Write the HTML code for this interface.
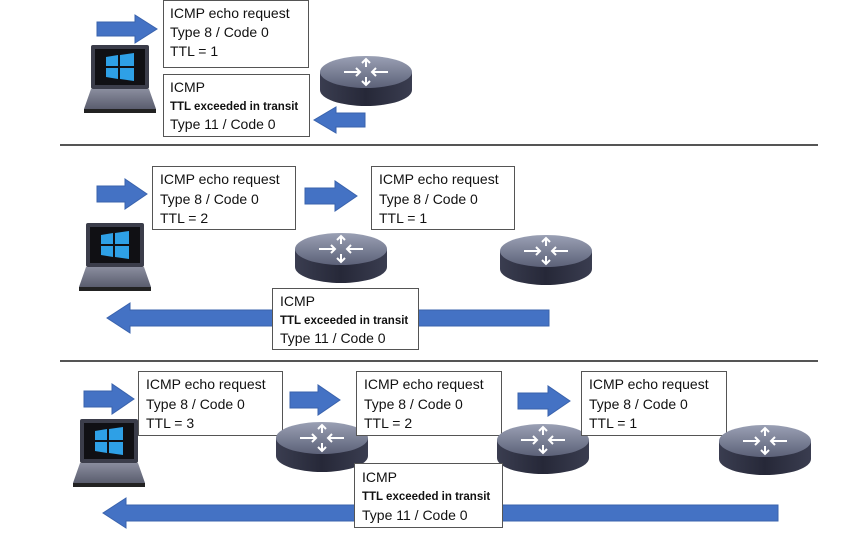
<!DOCTYPE html>
<html><head><meta charset="utf-8"><style>
html,body{margin:0;padding:0;background:#fff;}
svg{display:block}
text{font-family:"Liberation Sans",sans-serif;font-size:14px;fill:#111}
.b{font-weight:bold;font-size:11.5px}
.box{fill:#fff;stroke:#555;stroke-width:1}
.arr{fill:#4472c4;stroke:#3a63ad;stroke-width:1}
</style></head><body>
<svg width="844" height="537" viewBox="0 0 844 537" xmlns="http://www.w3.org/2000/svg">
<defs>
<linearGradient id="rt" x1="0" y1="0" x2="0" y2="1"><stop offset="0" stop-color="#9aa0b4"/><stop offset="1" stop-color="#5c6178"/></linearGradient>
<linearGradient id="rs" x1="0" y1="0" x2="1" y2="0"><stop offset="0" stop-color="#3a3d50"/><stop offset="0.5" stop-color="#262838"/><stop offset="1" stop-color="#3a3d50"/></linearGradient>
<linearGradient id="lb" x1="0" y1="0" x2="0" y2="1"><stop offset="0" stop-color="#8a8d9e"/><stop offset="1" stop-color="#5a5d6e"/></linearGradient>
<g id="router">
<path d="M0 16 L0 34 A46 16 0 0 0 92 34 L92 16 Z" fill="url(#rs)"/>
<ellipse cx="46" cy="16" rx="46" ry="16" fill="url(#rt)"/>
<g stroke="#fff" stroke-width="2" fill="none">
<path d="M24 16 H40 M36 12 L40 16 L36 20"/>
<path d="M68 16 H52 M56 12 L52 16 L56 20"/>
<path d="M46 3 V11 M42 7 L46 3 L50 7"/>
<path d="M46 29 V21 M42 25 L46 29 L50 25"/>
</g>
</g>
<g id="laptop">
<rect x="7" y="0" width="58" height="44" rx="2" fill="#3b3d4a"/>
<rect x="11" y="4" width="50" height="36" fill="#101014"/>
<g fill="#2ea0e6"><path d="M22 12 L34 10 V21 H22Z"/><path d="M36 10 L50 8 V21 H36Z"/><path d="M22 23 H34 V34 L22 32Z"/><path d="M36 23 H50 V36 L36 34Z"/></g>
<path d="M7 44 H65 L72 64 H0 Z" fill="url(#lb)"/>
<rect x="0" y="64" width="72" height="4" fill="#222"/>
</g>
</defs>

<!-- Panel 1 -->
<path class="arr" d="M97 22 H135 V15 L157 29 L135 43 V36 H97 Z"/>
<rect class="box" x="163.5" y="0.5" width="145" height="67"/>
<text x="170" y="18">ICMP echo request</text><text x="170" y="37">Type 8 / Code 0</text><text x="170" y="56">TTL = 1</text>
<use href="#laptop" transform="translate(84,45)"/>
<rect class="box" x="163.5" y="74.5" width="146" height="62"/>
<text x="170" y="92">ICMP</text><text class="b" x="170" y="110">TTL exceeded in transit</text><text x="170" y="129">Type 11 / Code 0</text>
<use href="#router" transform="translate(320,56)"/>
<path class="arr" d="M365 113 H336 V107 L314 120 L336 133 V127 H365 Z"/>
<rect x="60" y="144" width="758" height="2" fill="#555"/>

<!-- Panel 2 -->
<path class="arr" d="M97 186 H125 V179 L147 194 L125 209 V202 H97 Z"/>
<rect class="box" x="152.5" y="166.5" width="143" height="63"/>
<text x="160" y="184">ICMP echo request</text><text x="160" y="204">Type 8 / Code 0</text><text x="160" y="223">TTL = 2</text>
<path class="arr" d="M305 188 H335 V181 L357 196 L335 211 V204 H305 Z"/>
<rect class="box" x="371.5" y="166.5" width="143" height="63"/>
<text x="379" y="184">ICMP echo request</text><text x="379" y="204">Type 8 / Code 0</text><text x="379" y="223">TTL = 1</text>
<use href="#laptop" transform="translate(79,223)"/>
<use href="#router" transform="translate(295,233)"/>
<use href="#router" transform="translate(500,235)"/>
<path class="arr" d="M549 310 H130 V303 L107 318 L130 333 V326 H549 Z"/>
<rect class="box" x="272.5" y="288.5" width="146" height="61"/>
<text x="280" y="306">ICMP</text><text class="b" x="280" y="324">TTL exceeded in transit</text><text x="280" y="343">Type 11 / Code 0</text>
<rect x="60" y="360" width="758" height="2" fill="#555"/>

<!-- Panel 3 -->
<path class="arr" d="M84 391 H112 V384 L134 399 L112 414 V407 H84 Z"/>
<rect class="box" x="138.5" y="371.5" width="144" height="64"/>
<text x="146" y="389">ICMP echo request</text><text x="146" y="409">Type 8 / Code 0</text><text x="146" y="428">TTL = 3</text>
<use href="#router" transform="translate(276,422)"/>
<path class="arr" d="M290 392 H318 V385 L340 400 L318 415 V408 H290 Z"/>
<rect class="box" x="356.5" y="371.5" width="145" height="64"/>
<text x="364" y="389">ICMP echo request</text><text x="364" y="409">Type 8 / Code 0</text><text x="364" y="428">TTL = 2</text>
<use href="#router" transform="translate(497,424)"/>
<path class="arr" d="M518 393 H548 V386 L570 401 L548 416 V409 H518 Z"/>
<rect class="box" x="581.5" y="371.5" width="145" height="64"/>
<text x="589" y="389">ICMP echo request</text><text x="589" y="409">Type 8 / Code 0</text><text x="589" y="428">TTL = 1</text>
<use href="#router" transform="translate(719,425)"/>
<use href="#laptop" transform="translate(73,419)"/>
<path class="arr" d="M778 505 H126 V498 L103 513 L126 528 V521 H778 Z"/>
<rect class="box" x="354.5" y="463.5" width="148" height="64"/>
<text x="362" y="482">ICMP</text><text class="b" x="362" y="500">TTL exceeded in transit</text><text x="362" y="520">Type 11 / Code 0</text>
</svg>
</body></html>
